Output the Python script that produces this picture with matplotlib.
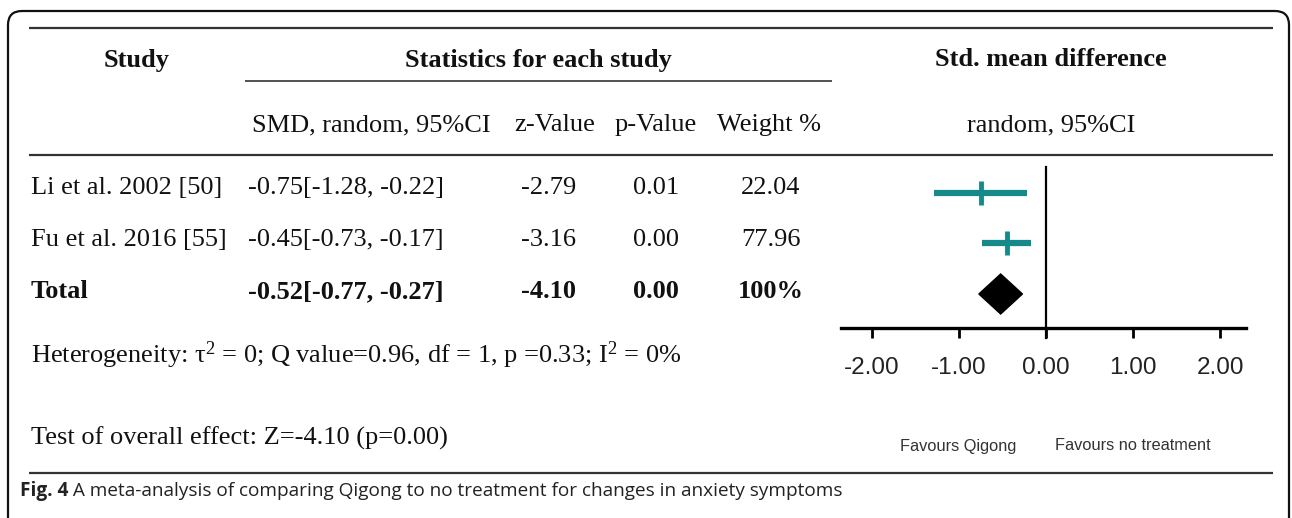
import numpy as np
import matplotlib.pyplot as plt
from matplotlib.patches import FancyBboxPatch, Polygon

# study data
studies = ["Li et al. 2002 [50]", "Fu et al. 2016 [55]"]
smd = [-0.75, -0.45]
ci_lo = [-1.28, -0.73]
ci_hi = [-0.22, -0.17]
z_val = [-2.79, -3.16]
p_val = [0.01, 0.00]
weight = [22.04, 77.96]

# pooled
tot_smd, tot_lo, tot_hi = -0.52, -0.77, -0.27
tot_z, tot_p = -4.10, 0.00

ticks = [-2, -1, 0, 1, 2]
hetero = r"Heterogeneity: $\mathregular{\tau^2}$ = 0; Q value=0.96, df = 1, p =0.33; I$\mathregular{^2}$ = 0%"
overall = "Test of overall effect: Z=-4.10 (p=0.00)"
caption_bold = "Fig. 4"
caption = " A meta-analysis of comparing Qigong to no treatment for changes in anxiety symptoms"

W, H = 1292, 518
fig = plt.figure(figsize=(W/100, H/100), dpi=100)
ax = fig.add_axes([0, 0, 1, 1])
ax.set_xlim(0, W)
ax.set_ylim(H, 0)
ax.axis("off")

serif = "Liberation Serif"
fs = 19
tc = "#111111"
dy = 3  # baseline nudge for serif text

# frame
ax.add_patch(FancyBboxPatch((8, 11), 1281, 540, boxstyle="round,pad=0,rounding_size=14",
                            fc="none", ec="#111111", lw=1.6))

# rules
for y, x0, x1, lw in [(28, 29, 1273, 1.6), (81, 245, 832, 1.2), (155, 29, 1273, 1.6), (473, 29, 1273, 1.6)]:
    ax.plot([x0, x1], [y, y], color="#333333", lw=lw, solid_capstyle="butt")

# headers
hy1, hy2 = 57 + dy, 122 + dy
ax.text(137, hy1, "Study", family=serif, weight="bold", fontsize=fs, ha="center", va="center", color=tc)
ax.text(538, hy1, "Statistics for each study", family=serif, weight="bold", fontsize=fs, ha="center", va="center", color=tc)
ax.text(1051, hy1, "Std. mean difference", family=serif, weight="bold", fontsize=fs, ha="center", va="center", color=tc)
ax.text(252, hy2, "SMD, random, 95%CI", family=serif, fontsize=fs, ha="left", va="center", color=tc)
ax.text(555, hy2, "z-Value", family=serif, fontsize=fs, ha="center", va="center", color=tc)
ax.text(656, hy2, "p-Value", family=serif, fontsize=fs, ha="center", va="center", color=tc)
ax.text(769, hy2, "Weight %", family=serif, fontsize=fs, ha="center", va="center", color=tc)
ax.text(1051, hy2, "random, 95%CI", family=serif, fontsize=fs, ha="center", va="center", color=tc)

# table rows
row_y = [185 + dy, 237 + dy, 289 + dy]
for i, name in enumerate(studies):
    y = row_y[i]
    ax.text(31, y, name, family=serif, fontsize=fs, ha="left", va="center", color=tc)
    ax.text(248, y, f"{smd[i]:.2f}[{ci_lo[i]:.2f}, {ci_hi[i]:.2f}]", family=serif, fontsize=fs, ha="left", va="center", color=tc)
    ax.text(549, y, f"{z_val[i]:.2f}", family=serif, fontsize=fs, ha="center", va="center", color=tc)
    ax.text(656, y, f"{p_val[i]:.2f}", family=serif, fontsize=fs, ha="center", va="center", color=tc)
    ax.text(771, y, f"{weight[i]:.2f}", family=serif, fontsize=fs, ha="center", va="center", color=tc)

y = row_y[2]
kw = dict(family=serif, weight="bold", fontsize=fs, va="center", color=tc)
ax.text(31, y, "Total", ha="left", **kw)
ax.text(248, y, f"{tot_smd:.2f}[{tot_lo:.2f}, {tot_hi:.2f}]", ha="left", **kw)
ax.text(549, y, f"{tot_z:.2f}", ha="center", **kw)
ax.text(656, y, f"{tot_p:.2f}", ha="center", **kw)
ax.text(771, y, "100%", ha="center", **kw)

ax.text(31, 352 + dy, hetero, family=serif, fontsize=fs, ha="left", va="center", color=tc)
ax.text(31, 435 + dy, overall, family=serif, fontsize=fs, ha="left", va="center", color=tc)

# caption
cb = ax.text(20, 491, caption_bold, family="Open Sans", weight="bold", fontsize=13.7, ha="left", va="center", color="#222222")
fig.canvas.draw()
bb = cb.get_window_extent()
ax.text(20 + bb.width, 491, caption, family="Open Sans", fontsize=13.7, ha="left", va="center", color="#222222")

# forest plot axes: pixels x 841..1246, y 160..328
px0, px1, py0, py1 = 841, 1246, 160, 328
fx = fig.add_axes([px0/W, 1 - py1/H, (px1-px0)/W, (py1-py0)/H])
fx.patch.set_alpha(0)
ppu = 87.2
x_zero = 1046
fx.set_xlim((px0 - x_zero)/ppu, (px1 - x_zero)/ppu)
rpx = 50.5
r0 = 193
fx.set_ylim((py1 - r0)/rpx, (py0 - r0)/rpx)

teal = "#16898b"
for i in range(len(studies)):
    fx.plot([ci_lo[i], ci_hi[i]], [i, i], color=teal, lw=4.5, solid_capstyle="butt")
    fx.plot([smd[i]], [i], marker="|", ms=17, mew=3.5, color=teal)

dh = 20/rpx
fx.add_patch(Polygon([[tot_lo, 2], [tot_smd, 2 - dh], [tot_hi, 2], [tot_smd, 2 + dh]],
                     closed=True, fc="black", ec="black"))

fx.plot([0, 0], [(167 - r0)/rpx, (338 - r0)/rpx], color="black", lw=1.6, clip_on=False)

for s in ["top", "left", "right"]:
    fx.spines[s].set_visible(False)
fx.spines["bottom"].set_linewidth(2.4)
fx.set_yticks([])
fx.set_xticks(ticks)
fx.set_xticklabels([f"{t:.2f}" for t in ticks])
fx.tick_params(axis="x", direction="out", length=7, width=2, pad=14, labelsize=17.5, labelcolor="#222222")
for lab in fx.get_xticklabels():
    lab.set_family("Liberation Sans")

ax.text(958, 446, "Favours Qigong", family="Liberation Sans", fontsize=11.8, ha="center", va="center", color="#333333")
ax.text(1133, 446, "Favours no treatment", family="Liberation Sans", fontsize=11.8, ha="center", va="center", color="#333333")

plt.savefig("out.png", dpi=100)
plt.close(fig)
